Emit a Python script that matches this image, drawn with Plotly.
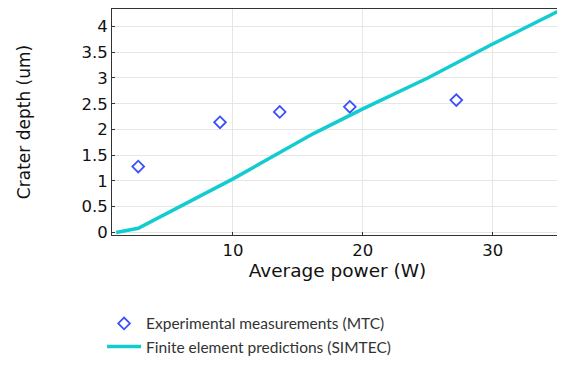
import plotly.graph_objects as go

exp_power = [2.7, 9.0, 13.6, 19.0, 27.2]
exp_depth = [1.28, 2.14, 2.34, 2.44, 2.57]

fe_power = [1.0, 2.7, 10.0, 16.2, 20.0, 25.0, 30.0, 35.0]
fe_depth = [0.0, 0.08, 1.04, 1.92, 2.40, 3.00, 3.66, 4.29]

x_ticks = [10, 20, 30]
y_ticks = [0, 0.5, 1, 1.5, 2, 2.5, 3, 3.5, 4]
y_tick_labels = ["0", "0.5", "1", "1.5", "2", "2.5", "3", "3.5", "4"]

fig = go.Figure()
fig.add_trace(go.Scatter(
    x=exp_power, y=exp_depth, mode="markers",
    name="Experimental measurements (MTC)",
    marker=dict(symbol="diamond-open", size=9, color="#3a50ff", line=dict(width=1.8)),
))
fig.add_trace(go.Scatter(
    x=fe_power, y=fe_depth, mode="lines",
    name="Finite element predictions (SIMTEC)",
    line=dict(color="#12ccd0", width=3.5),
))

# page body has an 8px margin, so the figure is sized/offset to compensate
fig.update_layout(
    width=557, height=350,
    margin=dict(l=104, r=2, t=1, b=123, autoexpand=False),
    paper_bgcolor="white", plot_bgcolor="white",
    font=dict(family="DejaVu Sans", color="#111111"),
    showlegend=True,
    legend=dict(
        x=-0.022, y=-0.318, xanchor="left", yanchor="top",
        font=dict(family="Lato", size=15.5, color="#333333"),
        itemwidth=34, tracegroupgap=0, bgcolor="rgba(0,0,0,0)",
    ),
)
fig.update_xaxes(
    range=[0.68, 35.42], tickvals=x_ticks, ticktext=[str(v) for v in x_ticks],
    showgrid=True, gridcolor="#e6e6e6", gridwidth=1,
    showline=True, linecolor="#333333", linewidth=1, mirror=True,
    ticks="inside", ticklen=3, tickcolor="#333333",
    tickfont=dict(family="DejaVu Sans", size=16.5), zeroline=False, automargin=False,
    title=dict(text="Average power (W)", font=dict(family="DejaVu Sans", size=18.5), standoff=0),
)
fig.update_yaxes(
    range=[-0.05, 4.34], tickvals=y_ticks, ticktext=y_tick_labels,
    showgrid=True, gridcolor="#e6e6e6", gridwidth=1,
    showline=True, linecolor="#333333", linewidth=1, mirror=True,
    ticks="inside", ticklen=3, tickcolor="#333333",
    tickfont=dict(family="DejaVu Sans", size=16.5), zeroline=False, automargin=False,
    title=dict(text="Crater depth (um)", font=dict(family="DejaVu Sans", size=17), standoff=46),
)

fig.write_html("out.html")
